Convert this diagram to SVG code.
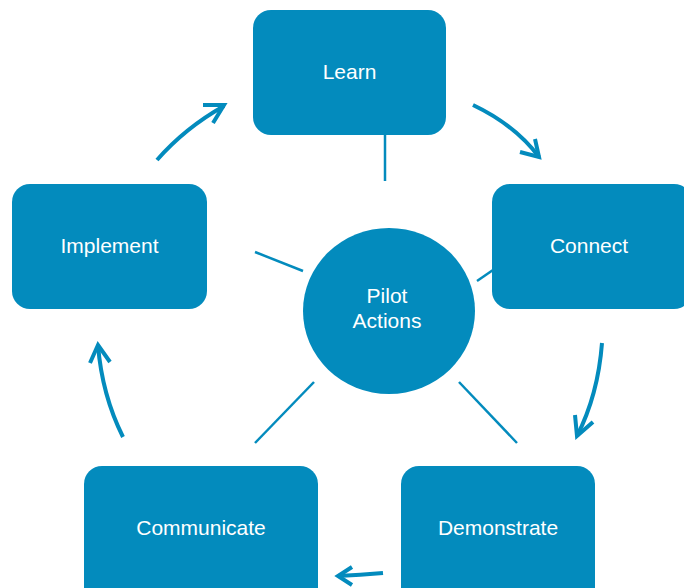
<svg xmlns="http://www.w3.org/2000/svg" width="684" height="588" viewBox="0 0 684 588">
<style>
.box{fill:#038bbd;}
.lbl{fill:#ffffff;font-family:"Liberation Sans",Arial,sans-serif;font-size:21px;text-anchor:middle;}
.ln{stroke:#038bbd;stroke-width:2.5;fill:none;}
.ar{stroke:#038bbd;stroke-width:4;fill:none;stroke-linecap:butt;stroke-linejoin:miter;}
</style>
<rect width="684" height="588" fill="#ffffff"/>
<g id="connectors">
<line class="ln" x1="385" y1="135" x2="385" y2="181"/>
<line class="ln" x1="255" y1="252" x2="303" y2="271"/>
<line class="ln" x1="477" y1="281" x2="493" y2="270"/>
<line class="ln" x1="314" y1="382" x2="255" y2="443"/>
<line class="ln" x1="459" y1="382" x2="517" y2="443"/>
<path class="ar" d="M157,160 Q185,128 224,106"/>
<path class="ar" d="M203,105 L224,105 L213,123"/>
<path class="ar" d="M473,105 Q515,125 539,157"/>
<path class="ar" d="M520,152 L539,157 L535,139"/>
<path class="ar" d="M602,343 Q598,395 577,436"/>
<path class="ar" d="M575,415 L577,436 L593,422"/>
<path class="ar" d="M383,573 Q360,575 338,576"/>
<path class="ar" d="M352,567 L338,576 L352,585"/>
<path class="ar" d="M123,437 Q102,395 98,345"/>
<path class="ar" d="M90,363 L98,345 L110,362"/>
</g>
<g id="learn"><rect class="box" x="253" y="10" width="193" height="125" rx="18"/><text class="lbl" x="349.5" y="79">Learn</text></g>
<g id="connect"><rect class="box" x="492" y="184" width="200" height="125" rx="18"/><text class="lbl" x="589" y="253">Connect</text></g>
<g id="demonstrate"><rect class="box" x="401" y="466" width="194" height="140" rx="18"/><text class="lbl" x="498" y="535">Demonstrate</text></g>
<g id="communicate"><rect class="box" x="84" y="466" width="234" height="140" rx="18"/><text class="lbl" x="201" y="535">Communicate</text></g>
<g id="implement"><rect class="box" x="12" y="184" width="195" height="125" rx="18"/><text class="lbl" x="109.5" y="253">Implement</text></g>
<g id="pilot"><ellipse class="box" cx="389" cy="311" rx="86" ry="83"/><text class="lbl" x="387" y="303">Pilot</text><text class="lbl" x="387" y="328">Actions</text></g>
</svg>
